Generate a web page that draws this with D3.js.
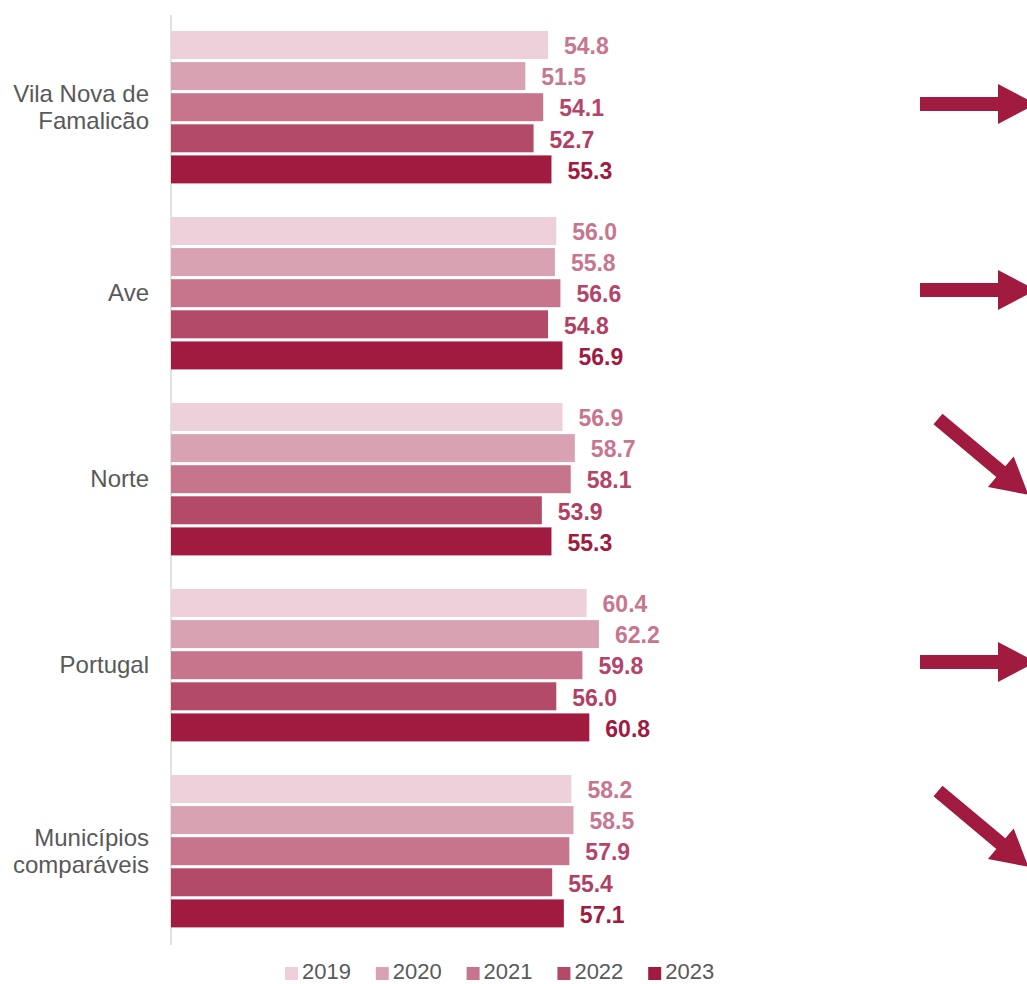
<!DOCTYPE html>
<html><head><meta charset="utf-8">
<script src="https://cdn.jsdelivr.net/npm/d3@7"></script>
<style>html,body{margin:0;padding:0;background:#fff;}svg{display:block;font-family:"Liberation Sans",Arial,sans-serif;}</style>
</head><body>
<script>
const categories = [["Vila Nova de","Famalicão"],["Ave"],["Norte"],["Portugal"],["Municípios","comparáveis"]];
const years = ["2019","2020","2021","2022","2023"];
const v2019 = [54.8, 56.0, 56.9, 60.4, 58.2];
const v2020 = [51.5, 55.8, 58.7, 62.2, 58.5];
const v2021 = [54.1, 56.6, 58.1, 59.8, 57.9];
const v2022 = [52.7, 54.8, 53.9, 56.0, 55.4];
const v2023 = [55.3, 56.9, 55.3, 60.8, 57.1];
const trends = ["flat","flat","down","flat","down"];
const barColors = ["#edd0d9","#d9a2b3","#c7758c","#b34a67","#a11a40"];
const labelColors = ["#c8768f","#c8768f","#b5446a","#b23f63","#a11a40"];
const series = [v2019, v2020, v2021, v2022, v2023];

const W = 1027, H = 984;
const svg = d3.select("body").append("svg").attr("width", W).attr("height", H);

const catKeys = categories.map(c => c.join(" "));
const x = d3.scaleLinear().domain([0, 120]).range([171, 171 + 120 * 6.88]);
const y0 = d3.scaleBand().domain(catKeys).range([15, 945]).padding(0);
const y1 = d3.scaleBand().domain(years).range([16, 168.4]).paddingInner(0.1).paddingOuter(0);

// axis line
svg.append("line").attr("x1", 171).attr("x2", 171).attr("y1", 15).attr("y2", 945)
  .attr("stroke", "#d9d9d9").attr("stroke-width", 1.5);

const g = svg.append("g");
catKeys.forEach((ck, ci) => {
  const gy = y0(ck);
  years.forEach((yr, si) => {
    const v = series[si][ci];
    g.append("rect").attr("x", x(0)).attr("y", gy + y1(yr))
      .attr("width", x(v) - x(0)).attr("height", y1.bandwidth())
      .attr("fill", barColors[si]);
    g.append("text").attr("x", x(v) + 16).attr("y", gy + y1(yr) + y1.bandwidth() / 2 + 1)
      .attr("dy", "0.36em").attr("font-size", 23).attr("font-weight", "bold")
      .attr("fill", labelColors[si]).text(v.toFixed(1));
  });
  // category labels
  const lines = categories[ci];
  const cy = gy + y0.bandwidth() / 2;
  const lh = 27;
  lines.forEach((ln, li) => {
    svg.append("text").attr("x", 149).attr("y", cy - 1.5 + (li - (lines.length - 1) / 2) * lh)
      .attr("dy", "0.36em").attr("text-anchor", "end").attr("font-size", 24)
      .attr("fill", "#595959").text(ln);
  });
  // trend arrow
  const t = trends[ci];
  const ag = svg.append("g").attr("fill", "#a11a40");
  const arrowPath = "M0,-7 L78,-7 L78,-20 L116,0 L78,20 L78,7 L0,7 Z";
  const diagPath = "M0,-7 L82,-7 L82,-20 L118,0 L82,20 L82,7 L0,7 Z";
  if (t === "flat") {
    ag.attr("transform", `translate(920,${cy - 4})`).append("path").attr("d", arrowPath);
  } else if (t === "down") {
    ag.attr("transform", `translate(938,${cy - 61}) rotate(40)`).append("path").attr("d", diagPath);
  } else {
    ag.attr("transform", `translate(938,${cy + 55}) rotate(-40)`).append("path").attr("d", diagPath);
  }
});

// legend
const lg = svg.append("g");
years.forEach((yr, i) => {
  const lx = 285 + i * 90.8;
  lg.append("rect").attr("x", lx).attr("y", 967).attr("width", 13).attr("height", 13).attr("fill", barColors[i]);
  lg.append("text").attr("x", lx + 17).attr("y", 979).attr("font-size", 22).attr("fill", "#595959").text(yr);
});
</script>
</body></html>
